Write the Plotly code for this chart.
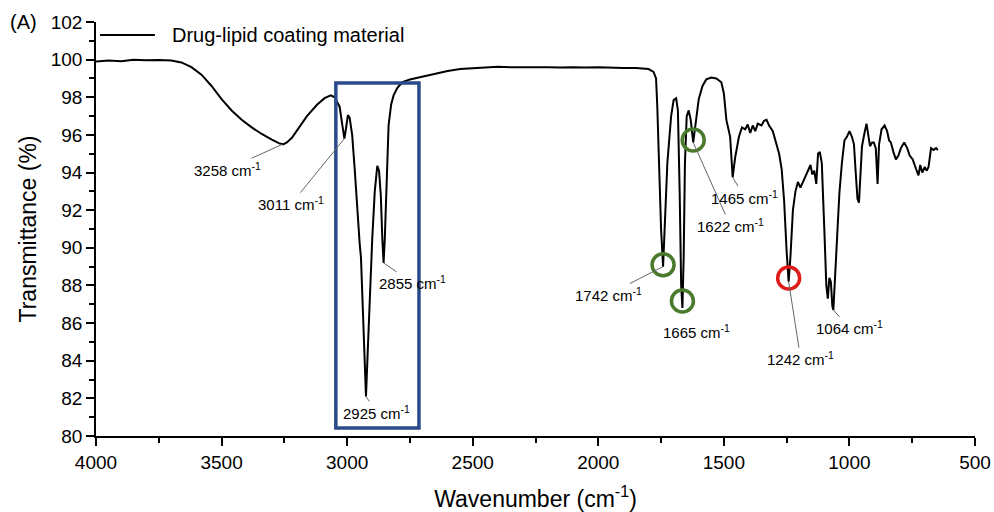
import plotly.graph_objects as go

# ---- Spectrum data ----
wavenumber = [4000, 3950, 3900, 3850, 3800, 3750, 3700, 3660, 3620, 3580, 3540, 3500, 3460, 3420,
              3380, 3340, 3300, 3270, 3255, 3240, 3220, 3190, 3160, 3120, 3090, 3065, 3050, 3040,
              3030, 3020, 3011, 3005, 2997, 2990, 2980, 2970, 2960, 2950, 2945, 2938, 2932, 2925,
              2918, 2910, 2900, 2890, 2880, 2873, 2866, 2860, 2855, 2850, 2842, 2835, 2825, 2815,
              2800, 2780, 2750, 2700, 2650, 2600, 2550, 2500, 2450, 2400, 2350, 2300, 2250, 2200,
              2150, 2100, 2050, 2000, 1950, 1900, 1850, 1800, 1780, 1770, 1765, 1758, 1750, 1742,
              1735, 1725, 1710, 1700, 1690, 1683, 1676, 1670, 1665, 1660, 1655, 1648, 1640, 1632,
              1622, 1614, 1600, 1585, 1570, 1550, 1530, 1510, 1500, 1490, 1482, 1475, 1465, 1455,
              1440, 1428, 1415, 1405, 1395, 1385, 1375, 1365, 1350, 1340, 1330, 1320, 1305, 1290,
              1280, 1270, 1260, 1250, 1242, 1235, 1225, 1215, 1205, 1195, 1185, 1175, 1165, 1155,
              1148, 1140, 1132, 1125, 1118, 1110, 1100, 1092, 1086, 1080, 1074, 1068, 1064, 1058,
              1050, 1040, 1030, 1020, 1010, 1000, 990, 982, 975, 968, 962, 956, 950, 940, 932, 925,
              918, 910, 903, 895, 888, 882, 872, 860, 850, 842, 835, 825, 815, 805, 795, 782, 770,
              760, 748, 735, 725, 718, 710, 700, 692, 685, 675, 665, 655, 648]
transmittance = [99.9, 99.95, 99.92, 100.0, 99.97, 99.98, 99.95, 99.85, 99.6, 99.2, 98.6, 97.9, 97.3, 96.8,
                 96.4, 96.05, 95.75, 95.55, 95.5, 95.6, 95.85, 96.4, 97.0, 97.6, 97.95, 98.1, 98.0, 97.75,
                 97.5, 96.6, 95.8, 96.3, 97.05, 96.9, 96.0, 94.2, 92.0, 90.2, 89.5, 87.0, 84.5, 82.1,
                 84.5, 87.5, 90.5, 93.0, 94.35, 94.1, 92.8, 90.5, 89.2, 90.5, 94.2, 96.5, 97.6, 98.1,
                 98.5, 98.8, 98.95, 99.1, 99.25, 99.4, 99.5, 99.55, 99.6, 99.62, 99.6, 99.62, 99.6, 99.6,
                 99.58, 99.6, 99.58, 99.6, 99.57, 99.55, 99.55, 99.5, 99.35, 99.0, 97.5, 94.5, 91.0, 89.0,
                 91.5, 94.5, 97.0, 97.85, 97.95, 97.3, 93.0, 88.0, 86.8, 89.5, 94.5, 97.0, 97.3, 96.8,
                 95.6, 96.5, 97.9, 98.6, 98.95, 99.05, 99.0, 98.8, 98.2, 96.8, 96.3, 95.9, 93.75, 94.8,
                 95.9, 96.4, 96.3, 96.55, 96.1, 96.5, 96.2, 96.6, 96.5, 96.75, 96.8, 96.5, 96.2, 95.5,
                 95.0, 94.2, 92.5, 89.8, 88.2, 89.5, 92.0, 93.0, 93.5, 93.2, 93.5, 93.8, 94.1, 94.4,
                 93.9, 94.1, 93.4, 95.0, 95.1, 94.5, 91.0, 88.0, 87.3, 88.4, 88.2, 86.9, 86.7, 88.2,
                 90.5, 92.9, 94.5, 95.7, 95.9, 96.2, 95.9, 95.5, 94.0, 92.6, 92.4, 94.0, 95.4, 96.1, 96.6, 96.0,
                 95.4, 95.6, 95.6, 95.3, 93.4, 95.5, 96.3, 96.5, 96.2, 95.7, 95.6, 95.1, 94.7, 94.9, 95.3, 95.6, 95.3,
                 94.9, 94.7, 94.2, 93.85, 94.4, 94.0, 94.3, 94.1, 94.3, 95.3, 95.2, 95.3, 95.2]

series_name = "Drug-lipid coating material"

# ---- Peak labels ----
peak_wn = [3258, 3011, 2855, 2925, 1742, 1665, 1622, 1465, 1242, 1064]
peak_tr = [95.5, 95.8, 89.2, 82.1, 89.0, 86.8, 95.6, 93.75, 88.2, 86.7]
peak_label_dx = [-55, -53, 29, 11, -55, 14, 37, 12, 12, 16]
peak_label_dy = [25, 65, 20, 16, 28, 23, 83, 20, 77, 18]
peak_leader = [True, True, True, True, True, False, True, True, True, True]

# ---- Highlight circles ----
circle_wn = [1742, 1665, 1622, 1242]
circle_tr = [89.1, 87.17, 95.73, 88.4]
circle_color = ["#4a7a2c", "#4a7a2c", "#4a7a2c", "#e01b1b"]

# ---- Highlight box (C-H stretching region) ----
box_wn = [3045, 2714]
box_tr = [80.43, 98.76]

FONT = "Liberation Sans, Arial, sans-serif"

fig = go.Figure()
fig.add_trace(go.Scatter(
    x=wavenumber, y=transmittance, mode="lines",
    line=dict(color="black", width=2),
    name=series_name, showlegend=False,
))

for wn, tr, dx, dy, lead in zip(peak_wn, peak_tr, peak_label_dx, peak_label_dy, peak_leader):
    fig.add_annotation(
        x=wn, y=tr, xref="x", yref="y",
        text=f"{wn} cm<sup>-1</sup>",
        showarrow=True, arrowhead=0, arrowwidth=1,
        arrowcolor="#666666" if lead else "rgba(0,0,0,0)",
        ax=dx, ay=dy, axref="pixel", ayref="pixel",
        font=dict(family=FONT, size=15, color="black"),
    )

for wn, tr, col in zip(circle_wn, circle_tr, circle_color):
    fig.add_shape(
        type="circle", xref="x", yref="y",
        xsizemode="pixel", ysizemode="pixel",
        xanchor=wn, yanchor=tr,
        x0=-11, x1=11, y0=-11, y1=11,
        line=dict(color=col, width=3.5), layer="above",
    )

fig.add_shape(
    type="rect", xref="x", yref="y",
    x0=box_wn[0], x1=box_wn[1], y0=box_tr[0], y1=box_tr[1],
    line=dict(color="#2b4a8a", width=3.5), layer="above",
)

# legend (drawn manually to match the reference's sample length)
fig.add_shape(
    type="line", xref="paper", yref="paper",
    x0=0.0046, x1=0.067, y0=0.9686, y1=0.9686,
    line=dict(color="black", width=2),
)
fig.add_annotation(
    text=series_name, xref="paper", yref="paper", x=0.084, y=0.9686,
    xanchor="left", yanchor="middle", showarrow=False,
    font=dict(family=FONT, size=20, color="black"),
)

fig.add_annotation(
    text="(A)", xref="paper", yref="paper", x=-0.1, y=1.0,
    xanchor="left", yanchor="middle", showarrow=False,
    font=dict(family=FONT, size=20, color="black"),
)

fig.update_layout(
    width=994, height=512,
    margin=dict(l=96, r=19, t=22, b=76),
    paper_bgcolor="white", plot_bgcolor="white",
    font=dict(family=FONT, color="black"),
    showlegend=False,
)

fig.update_xaxes(
    range=[4000, 500], tickmode="linear", tick0=500, dtick=500,
    showline=True, linecolor="black", linewidth=1.5, mirror=False,
    ticks="outside", ticklen=8, tickwidth=1.5, tickcolor="black",
    minor=dict(dtick=250, ticks="outside", ticklen=5, tickwidth=1.5, tickcolor="black"),
    showgrid=False, zeroline=False, automargin=False,
    tickfont=dict(family=FONT, size=19),
    title=dict(text="Wavenumber (cm<sup>-1</sup>)", font=dict(family=FONT, size=23), standoff=20),
)
fig.update_yaxes(
    range=[80, 102], tickmode="linear", tick0=80, dtick=2,
    showline=True, linecolor="black", linewidth=1.5, mirror=False,
    ticks="outside", ticklen=8, tickwidth=1.5, tickcolor="black",
    minor=dict(dtick=1, ticks="outside", ticklen=5, tickwidth=1.5, tickcolor="black"),
    showgrid=False, zeroline=False, automargin=False,
    tickfont=dict(family=FONT, size=19),
    title=dict(text="Transmittance (%)", font=dict(family=FONT, size=23), standoff=8),
)

fig.write_html("out.html")
